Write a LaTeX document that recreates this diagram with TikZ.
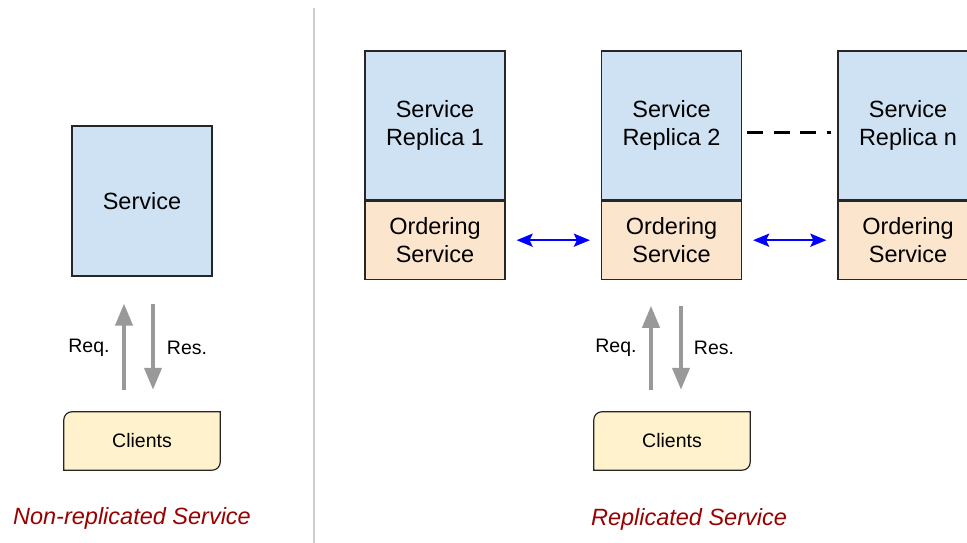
\documentclass[tikz,border=0pt]{standalone}
\usepackage{fontspec}
\setmainfont{Liberation Sans}
\usetikzlibrary{positioning,arrows.meta,backgrounds}
\definecolor{svcblue}{HTML}{CFE2F3}
\definecolor{ordorange}{HTML}{FCE5CD}
\definecolor{clientyellow}{HTML}{FFF2CC}
\definecolor{titlered}{HTML}{990000}
\definecolor{arrowgrey}{HTML}{999999}
\tikzset{
	box/.style={draw=black!85,line width=1.2pt,minimum width=140pt,align=center,inner sep=0pt,font=\fontsize{23.5}{28}\selectfont},
	servicebox/.style={box,fill=svcblue,minimum height=149pt},
	orderbox/.style={box,fill=ordorange,minimum height=78pt},
	small/.style={font=\fontsize{19.5}{23}\selectfont},
	clientbox/.style={small,minimum width=156pt,minimum height=58pt,inner sep=0pt},
	clientline/.style={fill=clientyellow,draw=black!85,line width=1.2pt},
	reqres/.style={-{Triangle[width=17pt,length=22pt]},arrowgrey,line width=4pt},
	sync/.style={{Stealth[length=16pt,width=13pt,inset=3pt]}-{Stealth[length=16pt,width=13pt,inset=3pt]},blue,line width=2.5pt,shorten <=11pt,shorten >=11pt},
	replicagap/.style={draw=black,line width=3.5pt,dash pattern=on 16pt off 10.5pt,shorten <=5pt,shorten >=6pt},
	divider/.style={draw=black!20,line width=1.3pt},
	caption/.style={font=\fontsize{23.5}{28}\selectfont\itshape,text=titlered}
}
\newcommand\clientoutline[1]{%
	\begin{scope}[on background layer]
		\draw[clientline] (#1.south west) -- ([yshift=-8pt]#1.north west) arc[start angle=180,end angle=90,radius=8pt] -- (#1.north east) -- ([yshift=8pt]#1.south east) arc[start angle=0,end angle=-90,radius=8pt] -- cycle;
	\end{scope}}

\begin{document}
\begin{tikzpicture}[x=1pt,y=1pt]
		\clip (0,0) rectangle (967,543);
		\draw[divider] (314,0) -- (314,535);

		\node[servicebox,minimum height=150pt] (svc) at (142,342) {Service};
		\node[clientbox] (cl1) at (142,102) {Clients};
		\clientoutline{cl1}
		\draw[reqres] ([xshift=-18pt,yshift=22pt]cl1.north) -- ([xshift=-18pt,yshift=-27pt]svc.south);
		\draw[reqres] ([xshift=11pt,yshift=-27pt]svc.south) -- ([xshift=11pt,yshift=22pt]cl1.north);
		\node[small] (req1) at (89,195) {Req.};
		\node[small] (res1) at (187,195) {Res.};
		\node[caption] (title1) at (132,25) {Non-replicated Service};

		\node[servicebox] (rep1) at (435,417.5) {Service\\Replica 1};
		\node[orderbox,below=0pt of rep1] (ord1) {Ordering\\Service};
		\node[servicebox] (rep2) at (671.5,417.5) {Service\\Replica 2};
		\node[orderbox,below=0pt of rep2] (ord2) {Ordering\\Service};
		\node[servicebox] (repn) at (908,417.5) {Service\\Replica n};
		\node[orderbox,below=0pt of repn] (ordn) {Ordering\\Service};

		\draw[sync] (ord1) -- (ord2);
		\draw[sync] (ord2) -- (ordn);
		\draw[replicagap] ([yshift=-7pt]rep2.east) -- ([yshift=-7pt]repn.west);

		\node[clientbox] (cl2) at (672,102) {Clients};
		\clientoutline{cl2}
		\draw[reqres] ([xshift=-21pt,yshift=22pt]cl2.north) -- ([xshift=-20.5pt,yshift=-26pt]ord2.south);
		\draw[reqres] ([xshift=9.5pt,yshift=-26pt]ord2.south) -- ([xshift=9pt,yshift=22pt]cl2.north);
		\node[small] (req2) at (616,195) {Req.};
		\node[small] (res2) at (714,195) {Res.};
		\node[caption] (title2) at (689,24) {Replicated Service};
\end{tikzpicture}
\end{document}
